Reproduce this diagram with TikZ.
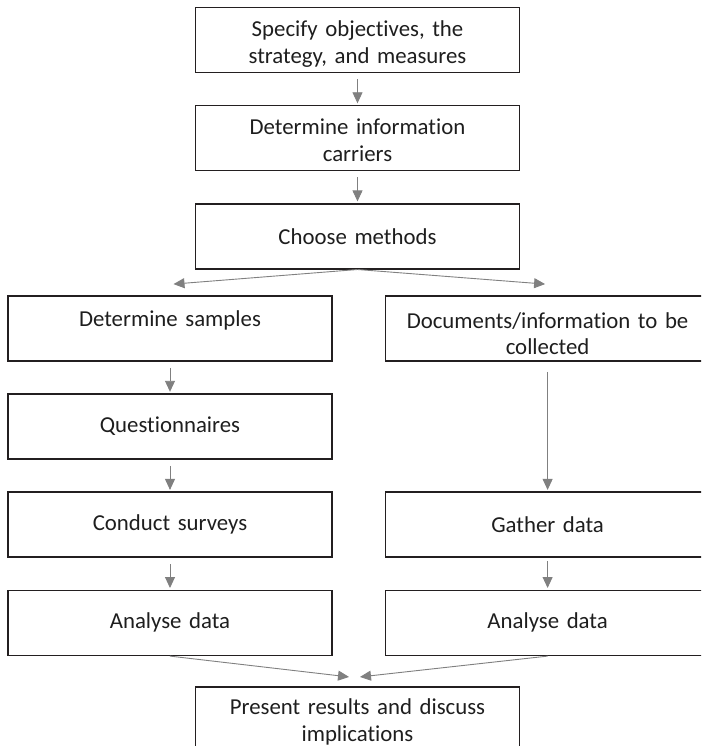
\documentclass[tikz,border=0pt]{standalone}
\usepackage{fontspec}
\setmainfont{Carlito}[Ligatures=NoCommon]
\usepackage{tikz}
\definecolor{Ink}{HTML}{231F20}
\definecolor{Text}{HTML}{1E1E1E}
\definecolor{Arrow}{HTML}{808080}
\usetikzlibrary{arrows.meta,positioning,calc}

\begin{document}
\begin{tikzpicture}[x=1pt,y=1pt,
  node distance=31.5pt and 52pt,
  stepbox/.style={draw=Ink,line width=1.6pt,text=Text,minimum height=65pt,
    text width=300pt,inner xsep=12pt,inner ysep=2pt,align=center,
    font=\fontsize{22.8}{26.5}\selectfont},
  topline/.style={text height=16pt,text depth=21pt},
  twoline/.style={text height=16pt,text depth=#1},
  arr/.style={-{Triangle[length=11pt,width=10pt]},line width=.9pt,draw=Arrow,
    shorten <=6pt,shorten >=1.5pt}
]
\useasboundingbox (0,0) rectangle (701,-746);
\clip (0,0) rectangle (701,-746);
% main chain
\node[stepbox,twoline=22.5pt] (spec) at (357.5,-40) {Specify objectives, the\\strategy, and measures};
\node[stepbox,twoline=22.5pt,below=of spec] (carriers) {Determine information\\carriers};
\node[stepbox,below=of carriers] (methods) {Choose methods};
% two branches
\node[stepbox,topline] (samples) at (170,-328.5) {Determine samples};
\node[stepbox,twoline=17pt,right=of samples] (docs) {Documents/information to be\\collected};
\node[stepbox,below=of samples] (quest) {Questionnaires};
\node[stepbox,below=of quest] (surveys) {Conduct surveys};
\node[stepbox,right=of surveys] (gather) {Gather data};
\node[stepbox,below=of surveys] (analyseL) {Analyse data};
\node[stepbox,right=of analyseL] (analyseR) {Analyse data};
\node[stepbox,minimum height=70pt,anchor=north] (present)
  at ($(methods.south |- analyseL.south)+(0,-30pt)$) {Present results and discuss\\implications};
% free ends of the slanted arrows
\coordinate (forkL) at ($(samples.north)+(2pt,11pt)$);
\coordinate (forkR) at ($(docs.north)+(-1pt,11pt)$);
\coordinate (joinL) at ($(present.north)+(-7pt,9pt)$);
\coordinate (joinR) at ($(present.north)+(1pt,9pt)$);
\draw[arr] (spec) -- (carriers);
\draw[arr] (carriers) -- (methods);
\draw[arr,shorten <=0pt] (methods.south) -- (forkL);
\draw[arr,shorten <=0pt] (methods.south) -- (forkR);
\draw[arr] (samples) -- (quest);
\draw[arr] (quest) -- (surveys);
\draw[arr] (surveys) -- (analyseL);
\draw[arr,shorten <=10pt] (docs) -- (gather);
\draw[arr,shorten <=3pt] (gather) -- (analyseR);
\draw[arr,shorten <=0pt] (analyseL.south) -- (joinL);
\draw[arr,shorten <=0pt] (analyseR.south) -- (joinR);
\end{tikzpicture}
\end{document}
